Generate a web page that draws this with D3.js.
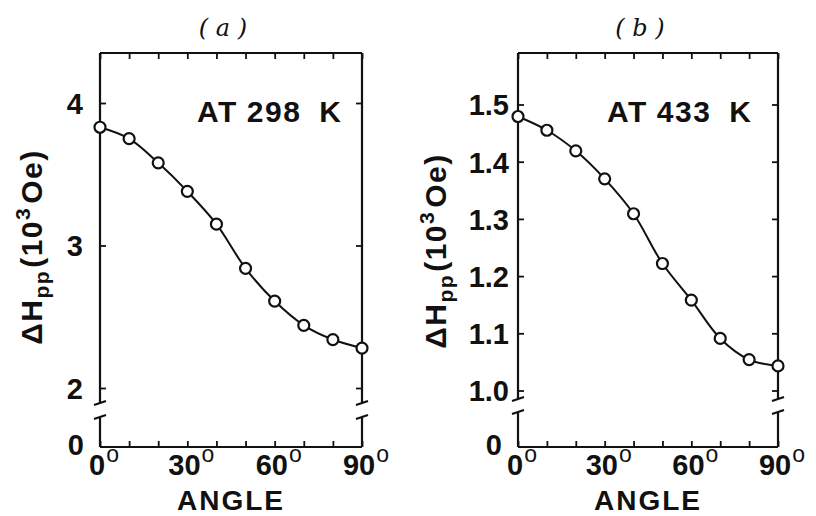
<!DOCTYPE html>
<html>
<head>
<meta charset="utf-8">
<script src="https://cdn.jsdelivr.net/npm/d3@7"></script>
<style>
  html, body { margin: 0; padding: 0; background: #fff; }
  svg { display: block; }
  .lbl { font-family: "Liberation Sans", Arial, Helvetica, sans-serif; font-weight: bold; fill: #111; }
</style>
</head>
<body>
<svg id="chart" width="816" height="516"></svg>
<script>
// Peak-to-peak linewidth versus field angle, two temperatures
const angles = [0, 10, 20, 30, 40, 50, 60, 70, 80, 90];
const dH298 = [3.83, 3.75, 3.58, 3.38, 3.15, 2.84, 2.61, 2.44, 2.34, 2.28];
const dH433 = [1.479, 1.455, 1.419, 1.370, 1.309, 1.222, 1.158, 1.091, 1.054, 1.043];
const yTicks298 = [2, 3, 4];
const yTicks433 = [1.0, 1.1, 1.2, 1.3, 1.4, 1.5];
const xTickValues = [0, 10, 20, 30, 40, 50, 60, 70, 80, 90];
const xTickLabels = [0, 30, 60, 90];
const panelTitles = ["( a )", "( b )"];
const tempLabels = [["AT", "298", "K"], ["AT", "433", "K"]];
const zeroLabel = "0";

const svg = d3.select("#chart");
const ink = "#111";

const panels = [
  { values: dH298, yTicks: yTicks298, yDomain: [2, 4], yRange: [388, 103],
    x0: 100, x1: 362, top: 53, bottom: 447, breaks: [403, 417],
    fmt: d3.format("d"), pad: 17, yLabelX: 42, yLabelY: 247, title: panelTitles[0], temp: tempLabels[0], tempX: 197 },
  { values: dH433, yTicks: yTicks433, yDomain: [1.0, 1.5], yRange: [390.5, 104.5],
    x0: 518, x1: 778, top: 53, bottom: 447, breaks: [399, 412],
    fmt: d3.format(".1f"), pad: 9, yLabelX: 446, yLabelY: 251, title: panelTitles[1], temp: tempLabels[1], tempX: 607 }
];

panels.forEach(p => {
  const x = d3.scaleLinear().domain([0, 90]).range([p.x0, p.x1]);
  const y = d3.scaleLinear().domain(p.yDomain).range(p.yRange);
  const g = svg.append("g");

  // frame with broken vertical axes
  const frame = g.append("g").attr("stroke", ink).attr("stroke-width", 2.2).attr("fill", "none");
  frame.append("line").attr("x1", p.x0).attr("x2", p.x1).attr("y1", p.top).attr("y2", p.top);
  frame.append("line").attr("x1", p.x0).attr("x2", p.x1).attr("y1", p.bottom).attr("y2", p.bottom);
  [p.x0, p.x1].forEach(ax => {
    frame.append("line").attr("x1", ax).attr("x2", ax).attr("y1", p.top).attr("y2", p.breaks[0]);
    frame.append("line").attr("x1", ax).attr("x2", ax).attr("y1", p.breaks[1]).attr("y2", p.bottom);
    p.breaks.forEach(by => {
      frame.append("line").attr("x1", ax - 6).attr("y1", by + 2).attr("x2", ax + 6).attr("y2", by - 2);
    });
  });

  // inward ticks on all four sides
  const styleAxis = sel => {
    sel.select(".domain").remove();
    sel.selectAll(".tick line").attr("stroke", ink).attr("stroke-width", 1.8);
  };
  g.append("g").attr("transform", `translate(0,${p.bottom})`)
    .call(d3.axisBottom(x).tickValues(xTickValues).tickSizeInner(-6).tickSizeOuter(0).tickFormat(""))
    .call(styleAxis);
  g.append("g").attr("transform", `translate(0,${p.top})`)
    .call(d3.axisTop(x).tickValues(xTickValues).tickSizeInner(-6).tickSizeOuter(0).tickFormat(""))
    .call(styleAxis);
  const yl = g.append("g").attr("transform", `translate(${p.x0},0)`)
    .call(d3.axisLeft(y).tickValues(p.yTicks).tickSizeInner(-6).tickSizeOuter(0).tickPadding(p.pad).tickFormat(p.fmt))
    .call(styleAxis);
  yl.selectAll(".tick text").attr("class", "lbl").attr("font-size", 29).attr("dy", "0.36em")
    .attr("fill", ink);
  g.append("g").attr("transform", `translate(${p.x1},0)`)
    .call(d3.axisRight(y).tickValues(p.yTicks).tickSizeInner(-6).tickSizeOuter(0).tickFormat(""))
    .call(styleAxis);

  // zero at the foot of the broken axis
  g.append("text").attr("class", "lbl").attr("font-size", 29)
    .attr("x", p.x0 - 16).attr("y", p.bottom + 8).attr("text-anchor", "end").text(zeroLabel);

  // angle labels with degree marks
  xTickLabels.forEach(v => {
    const t = g.append("text").attr("class", "lbl").attr("font-size", 29)
      .attr("x", x(v) + 4).attr("y", 475).attr("text-anchor", "middle");
    t.append("tspan").text(v);
    t.append("tspan").attr("font-size", 23).attr("font-weight", "normal").attr("dx", 1).attr("dy", -13).text("o");
  });
  g.append("text").attr("class", "lbl").attr("font-size", 28).attr("letter-spacing", 2)
    .attr("x", (p.x0 + p.x1) / 2).attr("y", 510).attr("text-anchor", "middle").text("ANGLE");

  // y-axis title
  const yt = g.append("text").attr("class", "lbl").attr("font-size", 30).attr("letter-spacing", 1.5)
    .attr("text-anchor", "middle")
    .attr("transform", `translate(${p.yLabelX},${p.yLabelY}) rotate(-90)`);
  yt.append("tspan").text("ΔH");
  yt.append("tspan").attr("font-size", 21).attr("dy", 7).text("pp");
  yt.append("tspan").attr("dy", -7).attr("dx", 2).text("(10");
  yt.append("tspan").attr("font-size", 21).attr("dy", -12).text("3");
  yt.append("tspan").attr("dy", 12).attr("dx", 3).text("Oe)");

  // panel title and temperature
  g.append("text").attr("font-family", "'DejaVu Serif', serif").attr("font-style", "italic")
    .attr("font-size", 24).attr("fill", ink)
    .attr("x", (p.x0 + p.x1) / 2 - 8).attr("y", 36).attr("text-anchor", "middle").text(p.title);
  const tt = g.append("text").attr("class", "lbl").attr("font-size", 30).attr("letter-spacing", 1.5)
    .attr("x", p.tempX).attr("y", 122);
  tt.append("tspan").text(p.temp[0]);
  tt.append("tspan").attr("dx", 9).text(p.temp[1]);
  tt.append("tspan").attr("dx", 18).text(p.temp[2]);

  // smooth curve and open circle markers
  const pts = angles.map((a, i) => [x(a), y(p.values[i])]);
  g.append("path").attr("d", d3.line().curve(d3.curveCatmullRom)(pts))
    .attr("fill", "none").attr("stroke", ink).attr("stroke-width", 2);
  g.selectAll("circle.pt").data(pts).join("circle").attr("class", "pt")
    .attr("cx", d => d[0]).attr("cy", d => d[1]).attr("r", 5.5)
    .attr("fill", "#fff").attr("stroke", ink).attr("stroke-width", 2.2);
});
</script>
</body>
</html>
